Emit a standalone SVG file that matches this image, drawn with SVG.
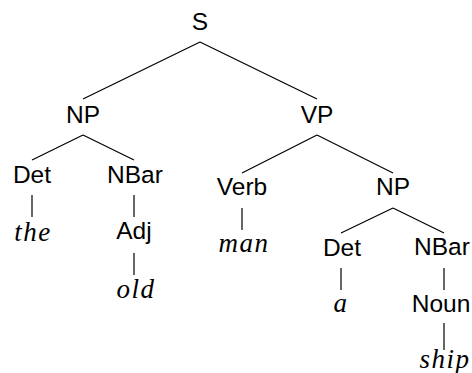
<svg xmlns="http://www.w3.org/2000/svg" width="472" height="373" viewBox="0 0 472 373">
  <style>
    .cat { font-family: "Liberation Sans", Arial, sans-serif; font-size: 24.5px; fill: #000; text-anchor: middle; }
    .word { font-family: "Liberation Serif", "Times New Roman", serif; font-style: italic; font-size: 27px; letter-spacing: 1.5px; fill: #000; text-anchor: middle; }
    .edge { stroke: #000; stroke-width: 1.2; fill: none; stroke-linecap: butt; }
  </style>
  <rect width="472" height="373" fill="#fff"/>

  <g id="connectors">
    <path class="edge" d="M200,42 L83,99 M200,42 L317,99"/>
    <path class="edge" d="M83,135 L32,160 M83,135 L134,160"/>
    <path class="edge" d="M317,135 L242,173 M317,135 L393,173"/>
    <path class="edge" d="M32,195 L32,217"/>
    <path class="edge" d="M134,195 L134,217"/>
    <path class="edge" d="M134,253 L134,275"/>
    <path class="edge" d="M242,208 L242,230"/>
    <path class="edge" d="M393,208 L341,233 M393,208 L444,233"/>
    <path class="edge" d="M341,268 L341,290"/>
    <path class="edge" d="M444,268 L444,290"/>
    <path class="edge" d="M444,323 L444,350"/>
  </g>

  <g id="n-S"><text class="cat" x="200" y="30">S</text></g>
  <g id="n-NP1"><text class="cat" x="83" y="123">NP</text></g>
  <g id="n-VP"><text class="cat" x="317" y="123">VP</text></g>
  <g id="n-Det1"><text class="cat" x="32" y="183">Det</text></g>
  <g id="n-NBar1"><text class="cat" x="135" y="183">NBar</text></g>
  <g id="n-the"><text class="word" x="33" y="241">the</text></g>
  <g id="n-Adj"><text class="cat" x="134" y="239">Adj</text></g>
  <g id="n-old"><text class="word" x="136" y="298">old</text></g>
  <g id="n-Verb"><text class="cat" x="242" y="195">Verb</text></g>
  <g id="n-man"><text class="word" x="244" y="252">man</text></g>
  <g id="n-NP2"><text class="cat" x="393" y="195">NP</text></g>
  <g id="n-Det2"><text class="cat" x="342" y="256">Det</text></g>
  <g id="n-a"><text class="word" x="341" y="312">a</text></g>
  <g id="n-NBar2"><text class="cat" x="442" y="255">NBar</text></g>
  <g id="n-Noun"><text class="cat" x="441" y="312">Noun</text></g>
  <g id="n-ship"><text class="word" x="445" y="368">ship</text></g>
</svg>
